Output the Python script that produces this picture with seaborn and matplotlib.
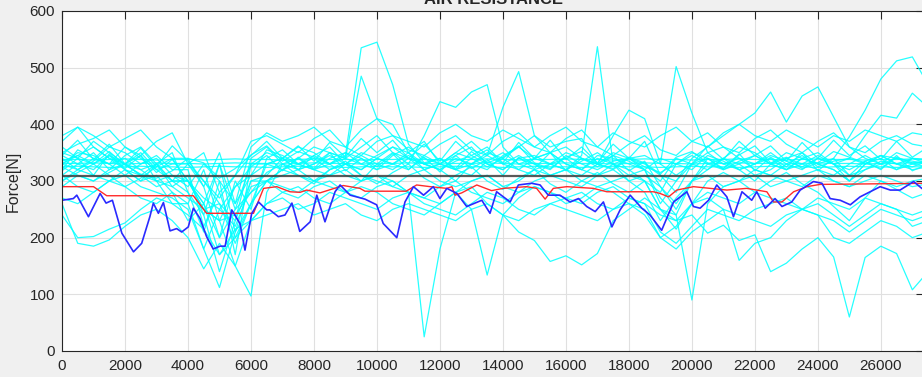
import matplotlib
matplotlib.use("Agg")
import matplotlib.pyplot as plt
import seaborn as sns
import pandas as pd

# =========================
# DATA
# =========================

# sampling distance of the cyan runs [m]
distance = list(range(0, 28000, 500))

run01 = [335, 345, 330, 352, 328, 312, 305, 318, 340, 332,
         305, 322, 346, 362, 335, 352, 342, 330, 345, 535,
         545, 470, 365, 332, 340, 322, 352, 332, 342, 362,
         332, 322, 342, 352, 330, 322, 342, 332, 312, 342,
         352, 332, 322, 346, 362, 332, 342, 322, 332, 352,
         342, 332, 322, 342, 332, 335]
run02 = [345, 330, 350, 320, 345, 360, 330, 300, 300, 260,
         330, 250, 330, 350, 340, 320, 330, 350, 340, 485,
         410, 400, 350, 320, 330, 345, 360, 330, 320, 340,
         345, 330, 320, 335, 350, 330, 310, 320, 340, 330,
         320, 345, 335, 320, 330, 345, 335, 325, 340, 330,
         320, 335, 345, 330, 340, 338]
run03 = [320, 355, 340, 330, 360, 340, 320, 330, 330, 290,
         200, 300, 250, 340, 355, 330, 345, 360, 330, 320,
         340, 330, 350, 370, 330, 320, 340, 355, 330, 345,
         330, 310, 320, 345, 537, 330, 300, 310, 290, 250,
         300, 320, 340, 330, 310, 320, 340, 330, 320, 310,
         330, 345, 330, 320, 340, 330]
run04 = [360, 340, 370, 350, 330, 345, 300, 260, 260, 320,
         230, 290, 310, 355, 345, 330, 320, 340, 350, 330,
         345, 360, 340, 320, 330, 350, 340, 325, 340, 360,
         380, 360, 370, 375, 330, 380, 425, 410, 330, 502,
         420, 350, 330, 340, 320, 310, 330, 345, 325, 335,
         340, 330, 345, 330, 325, 335]
run05 = [310, 330, 320, 345, 330, 310, 330, 290, 310, 240,
         330, 210, 300, 310, 340, 330, 320, 310, 330, 350,
         340, 330, 320, 345, 330, 320, 310, 335, 350, 330,
         320, 330, 340, 320, 310, 330, 340, 325, 315, 330,
         345, 330, 320, 335, 345, 330, 350, 340, 330, 340,
         378, 425, 480, 512, 519, 470]
run06 = [380, 395, 360, 340, 330, 350, 320, 300, 330, 300,
         260, 230, 340, 360, 330, 320, 345, 330, 310, 300,
         330, 350, 340, 330, 320, 300, 330, 350, 340, 320,
         310, 330, 350, 340, 330, 320, 340, 345, 330, 310,
         330, 350, 360, 340, 330, 350, 330, 320, 340, 330,
         340, 380, 416, 411, 455, 430]
run07 = [340, 320, 335, 360, 350, 330, 340, 310, 290, 330,
         300, 260, 310, 330, 340, 360, 350, 330, 340, 360,
         380, 350, 330, 380, 440, 430, 457, 470, 360, 330,
         340, 350, 330, 320, 340, 330, 320, 300, 280, 330,
         350, 340, 330, 320, 300, 330, 340, 350, 330, 320,
         300, 330, 345, 340, 330, 325]
run08 = [330, 345, 360, 340, 320, 300, 330, 350, 280, 210,
         300, 170, 330, 330, 320, 340, 360, 350, 340, 330,
         320, 345, 360, 340, 330, 350, 370, 345, 430, 493,
         380, 350, 360, 340, 330, 345, 335, 320, 300, 340,
         330, 320, 340, 360, 350, 330, 320, 340, 350, 330,
         310, 320, 330, 340, 335, 330]
run09 = [300, 320, 340, 330, 310, 330, 345, 320, 320, 220,
         280, 200, 260, 330, 340, 320, 330, 345, 330, 320,
         340, 360, 350, 330, 320, 340, 330, 320, 345, 360,
         340, 330, 320, 310, 330, 350, 340, 330, 310, 300,
         340, 360, 380, 400, 420, 457, 404, 450, 466, 413,
         360, 340, 330, 350, 340, 335]
run10 = [290, 310, 300, 320, 330, 310, 290, 300, 280, 240,
         140, 230, 300, 300, 310, 320, 300, 310, 320, 300,
         310, 300, 280, 25, 180, 280, 300, 310, 290, 300,
         320, 310, 300, 290, 310, 320, 300, 280, 230, 270,
         300, 310, 290, 300, 320, 310, 300, 290, 310, 300,
         290, 310, 300, 290, 300, 305]
run11 = [325, 310, 300, 315, 330, 320, 300, 310, 300, 250,
         260, 190, 260, 300, 320, 310, 300, 320, 330, 310,
         300, 290, 310, 320, 300, 290, 300, 310, 290, 280,
         300, 310, 320, 300, 290, 300, 310, 300, 250, 240,
         90, 260, 290, 300, 310, 290, 300, 310, 320, 300,
         290, 300, 310, 300, 290, 295]
run12 = [330, 320, 310, 300, 320, 310, 300, 290, 270, 250,
         230, 240, 280, 300, 290, 280, 300, 290, 280, 300,
         310, 290, 280, 270, 290, 300, 280, 270, 260, 280,
         290, 280, 270, 260, 280, 290, 270, 260, 240, 230,
         240, 208, 222, 195, 205, 140, 155, 180, 200, 166,
         60, 165, 185, 172, 108, 140]
run13 = [310, 290, 280, 300, 310, 290, 280, 270, 250, 180,
         250, 220, 290, 300, 280, 270, 290, 300, 280, 270,
         290, 300, 280, 270, 260, 280, 290, 260, 240, 210,
         195, 158, 168, 152, 172, 230, 250, 270, 250, 230,
         260, 280, 270, 260, 280, 270, 260, 250, 270, 260,
         250, 270, 260, 250, 240, 250]
run14 = [270, 260, 280, 300, 290, 270, 260, 280, 230, 260,
         170, 200, 230, 260, 280, 290, 270, 260, 280, 290,
         280, 260, 250, 240, 260, 280, 250, 134, 240, 270,
         290, 280, 260, 270, 290, 280, 260, 250, 200, 220,
         260, 270, 250, 160, 190, 200, 230, 250, 260, 240,
         220, 240, 260, 250, 220, 230]
run15 = [240, 200, 202, 215, 226, 250, 270, 260, 240, 215,
         170, 215, 230, 260, 270, 250, 260, 280, 270, 260,
         250, 270, 280, 260, 250, 240, 260, 280, 270, 250,
         240, 260, 270, 280, 260, 250, 270, 260, 210, 190,
         220, 250, 240, 230, 250, 260, 270, 250, 240, 230,
         210, 230, 250, 240, 230, 240]
run16 = [260, 190, 185, 196, 220, 240, 250, 230, 200, 145,
         190, 150, 230, 240, 250, 260, 240, 250, 260, 240,
         230, 250, 260, 250, 240, 230, 250, 260, 240, 230,
         250, 260, 250, 240, 230, 250, 260, 240, 200, 180,
         210, 230, 250, 240, 230, 220, 240, 250, 240, 200,
         190, 210, 230, 220, 200, 210]
run17 = [350, 340, 330, 345, 320, 300, 310, 280, 260, 180,
         112, 210, 260, 300, 320, 330, 340, 320, 330, 345,
         330, 320, 340, 330, 320, 335, 345, 330, 320, 340,
         330, 320, 345, 330, 320, 335, 340, 320, 260, 300,
         330, 340, 320, 330, 345, 330, 320, 340, 330, 320,
         300, 320, 335, 330, 320, 325]
run18 = [330, 350, 345, 330, 340, 320, 330, 300, 300, 250,
         230, 150, 97, 280, 330, 340, 320, 330, 350, 340,
         320, 330, 345, 330, 340, 320, 330, 345, 330, 320,
         340, 350, 330, 320, 345, 340, 330, 320, 270, 240,
         300, 330, 340, 320, 330, 340, 320, 330, 345, 330,
         300, 330, 340, 320, 330, 335]
run19 = [338, 338, 337, 338, 339, 338, 337, 338, 338, 337,
         338, 339, 338, 338, 337, 338, 339, 338, 338, 337,
         338, 338, 339, 338, 337, 338, 338, 339, 338, 337,
         338, 338, 339, 338, 338, 337, 338, 339, 338, 338,
         337, 338, 338, 339, 338, 338, 337, 338, 339, 338,
         338, 337, 338, 338, 339, 338]
run20 = [331, 331, 332, 331, 330, 331, 332, 331, 331, 330,
         331, 332, 331, 331, 330, 331, 332, 331, 331, 330,
         331, 331, 332, 331, 330, 331, 331, 332, 331, 330,
         331, 331, 332, 331, 331, 330, 331, 332, 331, 331,
         330, 331, 331, 332, 331, 331, 330, 331, 332, 331,
         331, 330, 331, 331, 332, 331]
run21 = [325, 326, 325, 324, 325, 326, 325, 325, 324, 325,
         326, 325, 325, 324, 325, 326, 325, 325, 324, 325,
         326, 325, 325, 324, 325, 326, 325, 325, 324, 325,
         326, 325, 325, 324, 325, 326, 325, 325, 324, 325,
         326, 325, 325, 324, 325, 326, 325, 325, 324, 325,
         326, 325, 325, 324, 325, 325]
run22 = [370, 395, 380, 360, 375, 390, 360, 340, 340, 290,
         350, 260, 360, 385, 370, 380, 395, 370, 360, 390,
         410, 380, 370, 360, 385, 400, 380, 370, 390, 375,
         360, 380, 395, 370, 360, 385, 370, 360, 380, 395,
         370, 360, 385, 400, 380, 370, 390, 375, 360, 380,
         370, 390, 380, 370, 385, 380]
run23 = [350, 365, 375, 390, 360, 345, 370, 385, 330, 350,
         280, 310, 370, 380, 365, 350, 375, 390, 360, 345,
         370, 380, 355, 345, 365, 380, 355, 345, 370, 385,
         360, 350, 375, 390, 360, 345, 365, 380, 355, 345,
         370, 385, 360, 350, 375, 390, 365, 350, 370, 385,
         360, 350, 370, 380, 365, 360]
run24 = [300, 315, 330, 310, 290, 305, 325, 340, 300, 260,
         200, 250, 280, 315, 330, 310, 295, 320, 335, 310,
         295, 315, 330, 305, 290, 310, 325, 300, 285, 305,
         320, 295, 280, 300, 315, 295, 280, 300, 250, 215,
         260, 300, 315, 300, 280, 300, 315, 295, 280, 255,
         230, 270, 300, 285, 270, 280]
run25 = [345, 372, 338, 365, 330, 358, 325, 362, 335, 300,
         270, 310, 345, 370, 340, 362, 335, 368, 342, 375,
         350, 372, 340, 365, 335, 370, 345, 360, 332, 368,
         340, 372, 338, 360, 332, 365, 340, 370, 310, 280,
         330, 362, 338, 370, 345, 362, 335, 368, 340, 372,
         345, 362, 338, 370, 342, 360]
run26 = [318, 340, 310, 348, 322, 345, 315, 338, 300, 270,
         250, 290, 325, 345, 318, 342, 322, 350, 318, 340,
         325, 348, 320, 342, 316, 345, 322, 338, 310, 342,
         322, 350, 318, 340, 325, 345, 318, 335, 290, 260,
         300, 340, 322, 348, 318, 342, 325, 350, 318, 340,
         310, 335, 320, 345, 318, 330]

runs = [run01, run02, run03, run04, run05, run06, run07, run08, run09,
        run10, run11, run12, run13, run14, run15, run16, run17, run18,
        run19, run20, run21, run22, run23, run24, run25, run26]

# selected run (blue)
blue_x = [0, 360, 470, 840, 1210, 1400, 1600, 1900, 2270, 2530, 2790, 2900,
          3060, 3220, 3430, 3640, 3800, 4010, 4170, 4380, 4590, 4800, 5020,
          5180, 5390, 5650, 5810, 6020, 6240, 6500, 6600, 6870, 7080, 7300,
          7550, 7880, 8090, 8350, 8670, 8830, 9150, 9620, 9990, 10200, 10630,
          10890, 11160, 11480, 11790, 12000, 12220, 12540, 12850, 13330,
          13590, 13800, 14230, 14490, 14910, 15180, 15440, 15810, 16130,
          16400, 16660, 16930, 17190, 17460, 17720, 18040, 18410, 18670,
          19040, 19420, 19840, 20050, 20260, 20530, 20790, 21110, 21320,
          21590, 21900, 22060, 22330, 22640, 22860, 23170, 23440, 23860,
          24130, 24390, 24710, 25030, 25340, 25660, 25980, 26300, 26610,
          27040, 27300, 27500]
blue_y = [266, 269, 275, 237, 278, 261, 266, 208, 175, 190, 237, 261,
          243, 262, 212, 216, 210, 219, 252, 234, 202, 180, 185,
          185, 249, 225, 178, 242, 263, 249, 249, 237, 240, 261,
          211, 228, 275, 228, 281, 293, 275, 268, 258, 225, 200,
          263, 290, 275, 290, 269, 287, 278, 255, 266,
          243, 281, 263, 293, 296, 293, 275, 275, 263,
          269, 255, 246, 263, 219, 249, 275, 252, 240,
          213, 263, 281, 255, 252, 266, 293, 272, 237,
          281, 266, 281, 252, 269, 255, 263, 284, 299,
          296, 269, 266, 258, 272, 281, 290, 284, 284,
          299, 287, 280]

# reference profile (red)
red_x = [0, 1000, 1420, 4170, 4590, 6080, 6400, 6820, 7240, 7560, 7770, 8190,
         8930, 9460, 9620, 10930, 11260, 11690, 12220, 12380, 12480, 12690,
         13170, 13640, 14010, 14750, 15070, 15340, 15600, 16030, 16870, 17300,
         18780, 18990, 19260, 19520, 20050, 21110, 21740, 22380, 22590, 22860,
         23230, 23650, 24070, 27500]
red_y = [290, 290, 274, 274, 243, 243, 287, 290, 281, 280, 284, 279,
         292, 287, 282, 282, 293, 290, 287, 290, 275, 279,
         293, 283, 287, 290, 287, 268, 287, 290, 287, 281,
         281, 278, 272, 284, 290, 284, 287, 281, 263, 263,
         281, 290, 294, 296]

# mean force (black)
mean_force = 309

# =========================
# TABLE
# =========================

cyan_df = pd.DataFrame({
    "distance": distance * len(runs),
    "force": [v for r in runs for v in r],
    "run": [i for i, r in enumerate(runs) for _ in r],
})

# =========================
# PLOT
# =========================

sns.set_theme(style="white")
plt.rcParams["font.family"] = ["Liberation Sans", "DejaVu Sans"]

fig = plt.figure(figsize=(9.22, 3.77), dpi=100, facecolor="#f0f0f0")
ax = fig.add_axes([62 / 922, 26 / 377, 862 / 922, 340 / 377])
ax.set_facecolor("white")

sns.lineplot(data=cyan_df, x="distance", y="force", units="run",
             estimator=None, color="#00ffff", lw=0.9, alpha=0.85,
             ax=ax, legend=False)
ax.axhline(mean_force, color="#3c3c3c", lw=1.6, alpha=0.85)
sns.lineplot(x=red_x, y=red_y, color="#ff2a2a", lw=1.0, ax=ax)
sns.lineplot(x=blue_x, y=blue_y, color="#2a2aff", lw=1.2, ax=ax)

ax.set_xlim(0, 27370)
ax.set_ylim(0, 600)
ax.set_xticks(range(0, 28000, 2000))
ax.set_yticks(range(0, 700, 100))
ax.grid(True, color="#e0e0e0", lw=0.8)
ax.set_axisbelow(True)

ax.tick_params(direction="in", length=5.5, width=0.8, top=True, right=True,
               color="#262626", labelcolor="#262626", labelsize=11)
ax.tick_params(axis="x", pad=6)
ax.tick_params(axis="y", pad=5)
for s in ax.spines.values():
    s.set_color("#262626")
    s.set_linewidth(0.8)

ax.set_xlabel("")
ax.set_ylabel("Force[N]", fontsize=11.5, color="#262626", labelpad=6)
# the title sits partly above the top edge, as in the reference
ax.set_title("AIR RESISTANCE", fontsize=12, fontweight="bold", pad=5)

fig.savefig("out.png", dpi=100, facecolor=fig.get_facecolor())
